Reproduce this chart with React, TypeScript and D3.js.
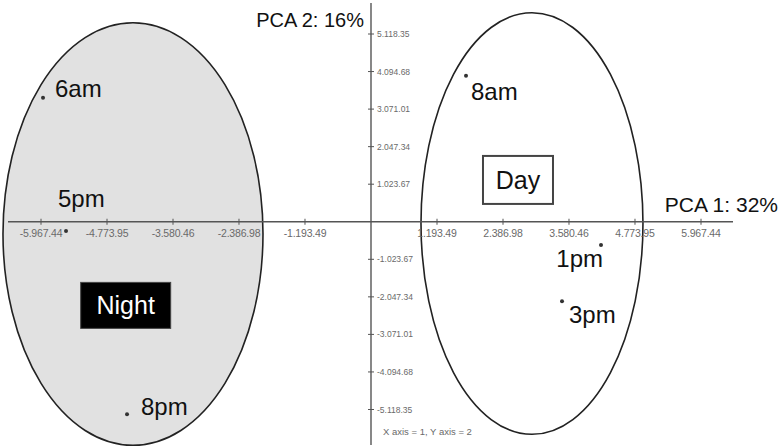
import React from "react";
import * as d3 from "d3";

const W = 781;
const H = 447;

// tick values (both axes) and their printed labels
const xTickValues = [-5967.44, -4773.95, -3580.46, -2386.98, -1193.49, 1193.49, 2386.98, 3580.46, 4773.95, 5967.44];
const xTickLabels = ["-5.967.44", "-4.773.95", "-3.580.46", "-2.386.98", "-1.193.49", "1.193.49", "2.386.98", "3.580.46", "4.773.95", "5.967.44"];
const yTickValues = [5118.35, 4094.68, 3071.01, 2047.34, 1023.67, -1023.67, -2047.34, -3071.01, -4094.68, -5118.35];
const yTickLabels = ["5.118.35", "4.094.68", "3.071.01", "2.047.34", "1.023.67", "-1.023.67", "-2.047.34", "-3.071.01", "-4.094.68", "-5.118.35"];

// sample points (PCA 1, PCA 2)
const sampleNames = ["6am", "5pm", "8pm", "8am", "1pm", "3pm"];
const pca1Values = [-5931, -5515, -4412, 1718, 4159, 3454];
const pca2Values = [3378, -253, -5248, 3979, -635, -2164];

// groups (ellipse centre and radii in data units)
const groupNames = ["Night", "Day"];
const groupCx = [-4304, 2911];
const groupCy = [-334, -48];
const groupRx = [2351, 2007];
const groupRy = [5760, 5747];
const groupLabelX = [-4436, 2658];
const groupLabelY = [-2280, 1140];

// label placement (pixels, style only)
const labelOffsets: Record<string, [number, number, string]> = {
  "6am": [12, -1, "start"],
  "5pm": [-8, -24, "start"],
  "8pm": [14, 1, "start"],
  "8am": [5, 24, "start"],
  "1pm": [2, 22, "end"],
  "3pm": [7, 22, "start"],
};

const x = d3.scaleLinear().domain([-5967.44, 5967.44]).range([41, 701]);
const y = d3.scaleLinear().domain([-5118.35, 5118.35]).range([409.5, 34]);

const FONT = "Liberation Sans, Arial, sans-serif";
const AXIS = "#555";
const TICKTXT = "#6a6a6a";

export default function App() {
  const x0 = x(0);
  const y0 = y(0);
  return (
    <svg width={W} height={H} style={{ position: "absolute", left: 0, top: 0, background: "#fff" }} fontFamily={FONT}>
      {/* ellipses */}
      <ellipse cx={x(groupCx[0])} cy={y(groupCy[0])} rx={x(groupCx[0] + groupRx[0]) - x(groupCx[0])} ry={y(groupCy[0]) - y(groupCy[0] + groupRy[0])} fill="#e1e1e1" stroke="#222" strokeWidth={1.6} />
      <ellipse cx={x(groupCx[1])} cy={y(groupCy[1])} rx={x(groupCx[1] + groupRx[1]) - x(groupCx[1])} ry={y(groupCy[1]) - y(groupCy[1] + groupRy[1])} fill="none" stroke="#222" strokeWidth={1.6} />

      {/* axes */}
      <line x1={8} x2={733} y1={y0} y2={y0} stroke={AXIS} strokeWidth={1.4} />
      <line x1={x0} x2={x0} y1={3} y2={445} stroke={AXIS} strokeWidth={1.4} />
      {xTickValues.map((v, i) => (
        <g key={"xt" + i}>
          <line x1={x(v)} x2={x(v)} y1={y0 - 3} y2={y0 + 3} stroke={AXIS} strokeWidth={1} />
          <text x={x(v)} y={y0 + 15} textAnchor="middle" fontSize={10.5} fill={TICKTXT} letterSpacing={-0.2}>{xTickLabels[i]}</text>
        </g>
      ))}
      {yTickValues.map((v, i) => (
        <g key={"yt" + i}>
          <line x1={x0 - 3} x2={x0 + 3} y1={y(v)} y2={y(v)} stroke={AXIS} strokeWidth={1} />
          <text x={x0 + 6} y={y(v) + 3} textAnchor="start" fontSize={8.5} fill={TICKTXT}>{yTickLabels[i]}</text>
        </g>
      ))}

      {/* axis titles */}
      <text x={364} y={27} textAnchor="end" fontSize={20} fill="#111">PCA 2: 16%</text>
      <text x={778} y={212} textAnchor="end" fontSize={21} fill="#111">PCA 1: 32%</text>
      <text x={x0 + 12} y={435} fontSize={9.5} fill={TICKTXT}>X axis = 1, Y axis = 2</text>

      {/* group labels */}
      <g>
        <rect x={x(groupLabelX[0]) - 45} y={y(groupLabelY[0]) - 23} width={90} height={46} fill="#000" stroke="#444" strokeWidth={1} />
        <text x={x(groupLabelX[0])} y={y(groupLabelY[0]) + 9} textAnchor="middle" fontSize={25} fill="#fff">{groupNames[0]}</text>
        <rect x={x(groupLabelX[1]) - 35} y={y(groupLabelY[1]) - 24} width={70} height={48} fill="#fff" stroke="#444" strokeWidth={2} />
        <text x={x(groupLabelX[1])} y={y(groupLabelY[1]) + 9} textAnchor="middle" fontSize={25} fill="#111">{groupNames[1]}</text>
      </g>

      {/* points */}
      {sampleNames.map((n, i) => {
        const px = x(pca1Values[i]);
        const py = y(pca2Values[i]);
        const [dx, dy, anchor] = labelOffsets[n];
        return (
          <g key={n}>
            <circle cx={px} cy={py} r={2} fill="#333" />
            <text x={px + dx} y={py + dy} textAnchor={anchor as any} fontSize={24} fill="#111">{n}</text>
          </g>
        );
      })}
    </svg>
  );
}
